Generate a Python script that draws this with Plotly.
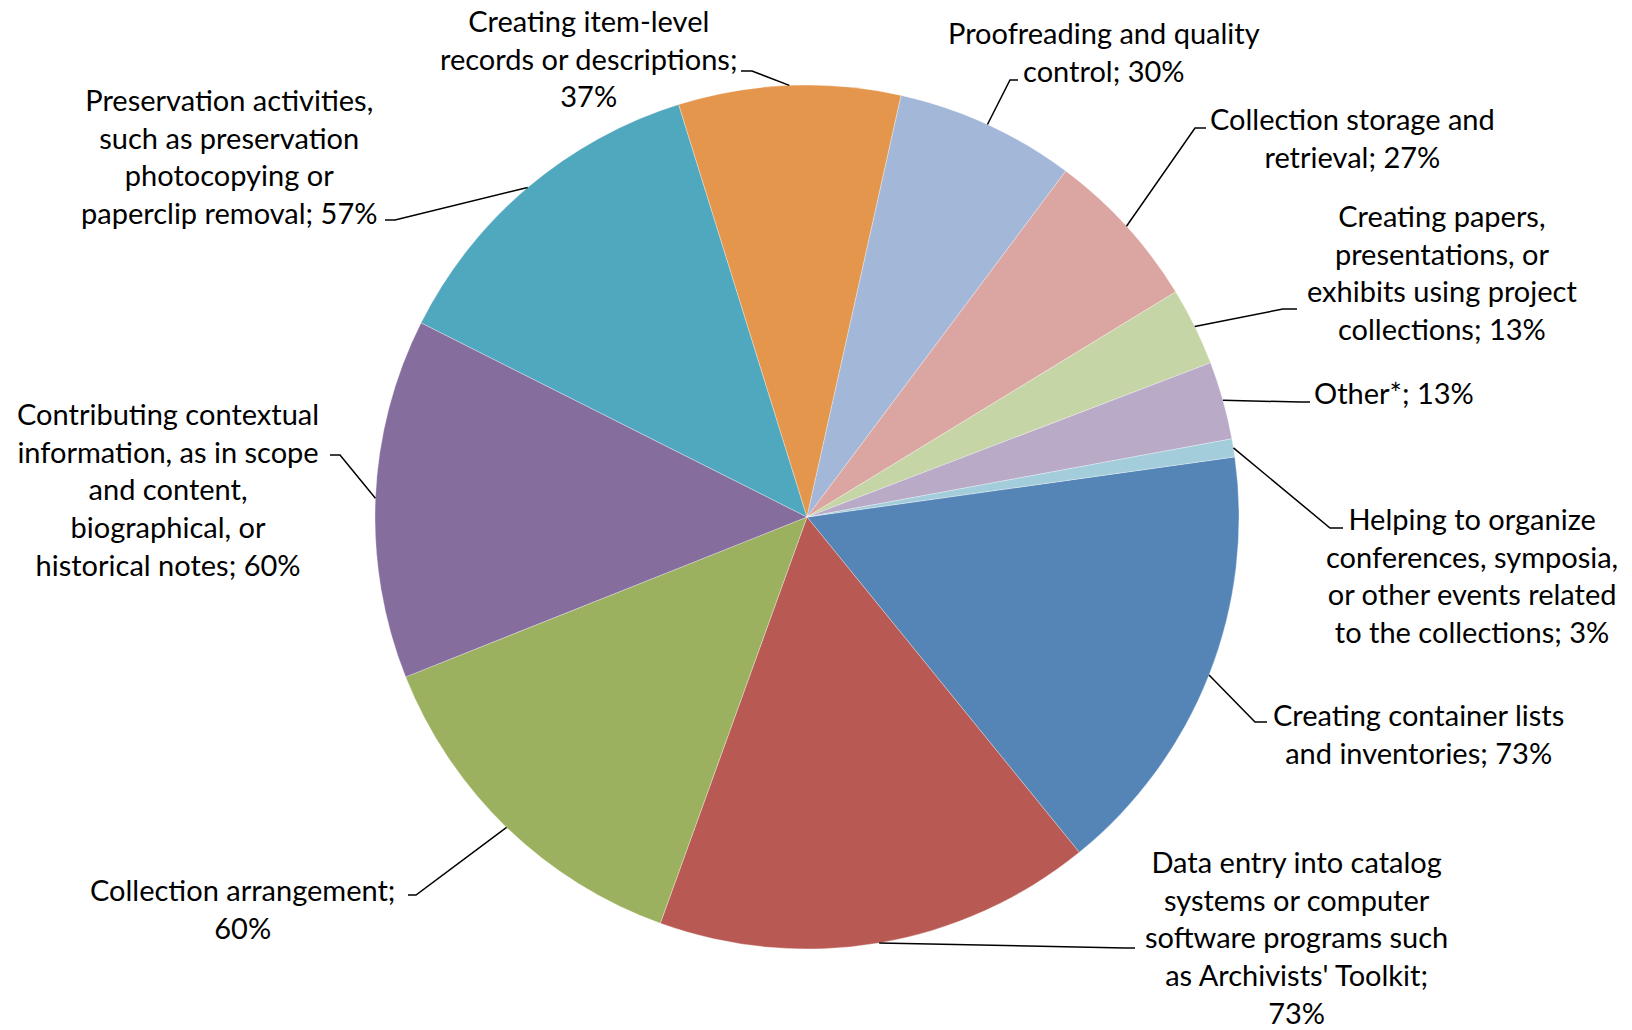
import math
import plotly.graph_objects as go

# ---- data ----
labels = [
    "Creating container lists and inventories",
    "Data entry into catalog systems or computer software programs such as Archivists' Toolkit",
    "Collection arrangement",
    "Contributing contextual information, as in scope and content, biographical, or historical notes",
    "Preservation activities, such as preservation photocopying or paperclip removal",
    "Creating item-level records or descriptions",
    "Proofreading and quality control",
    "Collection storage and retrieval",
    "Creating papers, presentations, or exhibits using project collections",
    "Other*",
    "Helping to organize conferences, symposia, or other events related to the collections",
]
values = [73, 73, 60, 60, 57, 37, 30, 27, 13, 13, 3]
label_text = [
    "Creating container lists<br>and inventories; 73%",
    "Data entry into catalog<br>systems or computer<br>software programs such<br>as Archivists' Toolkit;<br>73%",
    "Collection arrangement;<br>60%",
    "Contributing contextual<br>information, as in scope<br>and content,<br>biographical, or<br>historical notes; 60%",
    "Preservation activities,<br>such as preservation<br>photocopying or<br>paperclip removal; 57%",
    "Creating item-level<br>records or descriptions;<br>37%",
    "Proofreading and quality<br>control; 30%",
    "Collection storage and<br>retrieval; 27%",
    "Creating papers,<br>presentations, or<br>exhibits using project<br>collections; 13%",
    "Other*; 13%",
    "Helping to organize<br>conferences, symposia,<br>or other events related<br>to the collections; 3%",
]
colors = ["#5585B7", "#B85A53", "#9CB15F", "#856D9D", "#50A8BF", "#E3964C",
          "#A3B7D8", "#DBA5A2", "#C6D5A5", "#B9AAC8", "#A3CDDB"]

# ---- layout ----
W, H = 1632, 1030
CX, CY, R = 807, 517, 432
ROT = 82

# label block centres (px) and leader-line elbow / end points (px)
label_pos = [(1418, 733), (1296, 937), (242, 908), (168, 489), (229, 156), (589, 58),
             (1104, 52), (1352, 138), (1442, 272), (1394, 393), (1472, 575)]
elbows = [((1255, 722), (1267, 722)), ((1125, 948), (1135, 948)), ((416, 895), (408, 895)),
          ((340, 455), (330, 455)), ((395, 220), (385, 220)), ((752, 71), (741, 71)),
          ((1010, 80), (1018, 80)), ((1195, 128), (1206, 128)), ((1283, 309), (1297, 309)),
          ((1300, 402), (1310, 402)), ((1330, 528), (1343, 528))]

FONT = "Lato, Carlito, 'Open Sans', sans-serif"


def px2paper(x, y):
    return x / W, 1 - y / H


fig = go.Figure(go.Pie(
    labels=labels, values=values, sort=False, direction="clockwise", rotation=ROT,
    marker=dict(colors=colors, line=dict(color="rgba(255,255,255,0.5)", width=0.6)),
    textinfo="none", hoverinfo="label+value", showlegend=False,
    domain=dict(x=[(CX - R) / W, (CX + R) / W], y=[1 - (CY + R) / H, 1 - (CY - R) / H]),
))

total = sum(values)
cum = ROT
shapes, annotations = [], []
for i, v in enumerate(values):
    span = v / total * 360
    mid = math.radians(cum + span / 2)
    cum += span
    ax_, ay_ = CX + R * math.sin(mid), CY - R * math.cos(mid)
    (ex, ey), (tx, ty) = elbows[i]
    p0, p1, p2 = px2paper(ax_, ay_), px2paper(ex, ey), px2paper(tx, ty)
    shapes.append(dict(type="path", xref="paper", yref="paper",
                       path=f"M {p0[0]} {p0[1]} L {p1[0]} {p1[1]} L {p2[0]} {p2[1]}",
                       line=dict(color="black", width=1.5)))
    lx, ly = px2paper(*label_pos[i])
    annotations.append(dict(x=lx, y=ly, xref="paper", yref="paper", text=label_text[i],
                            showarrow=False, xanchor="center", yanchor="middle", align="center",
                            font=dict(family=FONT, size=29, color="black")))

fig.update_layout(width=W, height=H, margin=dict(l=0, r=0, t=0, b=0),
                  paper_bgcolor="white", plot_bgcolor="white",
                  shapes=shapes, annotations=annotations)

fig.write_html("out.html", config={"displayModeBar": False},
               post_script="document.body.style.margin='0';")
